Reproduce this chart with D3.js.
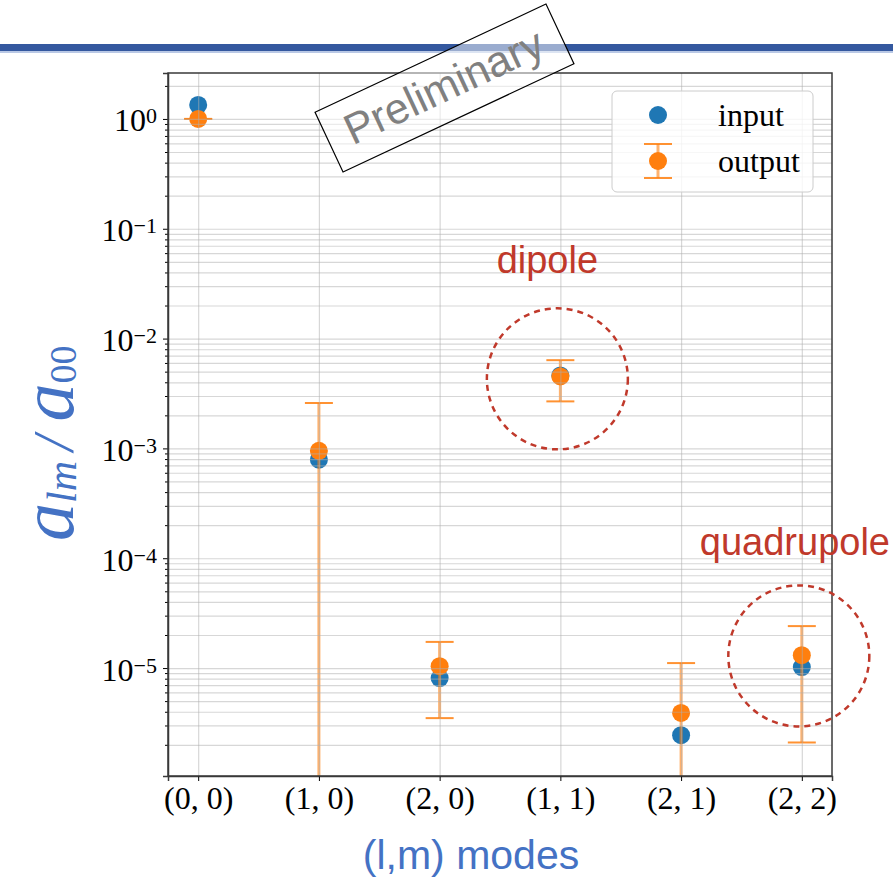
<!DOCTYPE html>
<html>
<head>
<meta charset="utf-8">
<script src="https://cdn.jsdelivr.net/npm/d3@7"></script>
<style>
body { margin: 0; background: #fff; }
svg { display: block; }
</style>
</head>
<body>
<svg id="chart" width="893" height="881"></svg>
<script>
'use strict';

// values
var modes = ['(0, 0)', '(1, 0)', '(2, 0)', '(1, 1)', '(2, 1)', '(2, 2)'];
var inputValues = [1.34, 7.9e-4, 8.1e-6, 4.62e-3, 2.45e-6, 1.02e-5];
var outputValues = [1.0, 9.5e-4, 1.04e-5, 4.52e-3, 3.9e-6, 1.31e-5];
var outputErrors = [0, 1.64e-3, 0.69e-5, 1.84e-3, 7.2e-6, 1.1e-5];
var decades = [-5, -4, -3, -2, -1, 0];
var seriesNames = ['input', 'output'];
var notes = [
	{text: 'dipole', mode: '(1, 1)', value: 4.3e-3},
	{text: 'quadrupole', mode: '(2, 2)', value: 1.29e-5}
];

var blue = '#1f77b4';
var orange = '#ff7f0e';
var labelBlue = '#4472c4';
var noteRed = '#c0392b';
var serif = '"Liberation Serif", "Times New Roman", serif';
var sans = '"Liberation Sans", Arial, Helvetica, sans-serif';

var svg = d3.select('#chart');
var margin = {top: 73, right: 61, bottom: 105, left: 168};
var width = 893 - margin.left - margin.right;
var height = 881 - margin.top - margin.bottom;

// slide header bar
svg.append('rect').attr('x', 0).attr('y', 44).attr('width', 893).attr('height', 7).attr('fill', '#34589f');
svg.append('rect').attr('x', 0).attr('y', 51).attr('width', 893).attr('height', 2).attr('fill', '#b9c8e5');

var x = d3.scalePoint()
	.domain(modes)
	.range([0, width])
	.padding(0.25);

var y = d3.scaleLog()
	.domain([1.04e-6, 2.62])
	.range([height, 0]);

var majorVals = decades.map(function(e) { return Math.pow(10, e); });
var minorVals = [];
for (var e = -6; e <= 0; e++) {
	for (var m = 2; m <= 9; m++) {
		var v = m * Math.pow(10, e);
		if (v > y.domain()[0] && v < y.domain()[1]) minorVals.push(v);
	}
}

var g = svg.append('g').attr('transform', 'translate(' + margin.left + ',' + margin.top + ')');

svg.append('defs').append('clipPath').attr('id', 'plotclip')
	.append('rect').attr('width', width).attr('height', height);

var marks = g.append('g').attr('clip-path', 'url(#plotclip)');

var rows = modes.map(function(d, i) {
	return {mode: d, input: inputValues[i], output: outputValues[i], err: outputErrors[i]};
});

// input points
marks.selectAll('.input')
	.data(rows)
.enter().append('circle')
	.attr('class', 'input')
	.attr('cx', function(d) { return x(d.mode); })
	.attr('cy', function(d) { return y(d.input); })
	.attr('r', 9)
	.attr('fill', blue);

// output error bars
var bars = marks.selectAll('.errbar')
	.data(rows)
.enter().append('g')
	.attr('class', 'errbar');

bars.append('line')
	.attr('x1', function(d) { return x(d.mode); })
	.attr('x2', function(d) { return x(d.mode); })
	.attr('y1', function(d) { return y(d.output + d.err); })
	.attr('y2', function(d) { return d.output - d.err > 0 ? y(d.output - d.err) : height + 5; })
	.attr('stroke', orange)
	.attr('stroke-opacity', 0.6)
	.attr('stroke-width', 3);

bars.append('line')
	.attr('x1', function(d) { return x(d.mode) - 14; })
	.attr('x2', function(d) { return x(d.mode) + 14; })
	.attr('y1', function(d) { return y(d.output + d.err); })
	.attr('y2', function(d) { return y(d.output + d.err); })
	.attr('stroke', orange)
	.attr('stroke-opacity', 0.85)
	.attr('stroke-width', 2);

bars.filter(function(d) { return d.output - d.err > 0; })
	.append('line')
	.attr('x1', function(d) { return x(d.mode) - 14; })
	.attr('x2', function(d) { return x(d.mode) + 14; })
	.attr('y1', function(d) { return y(d.output - d.err); })
	.attr('y2', function(d) { return y(d.output - d.err); })
	.attr('stroke', orange)
	.attr('stroke-opacity', 0.85)
	.attr('stroke-width', 2);

// output points
marks.selectAll('.output')
	.data(rows)
.enter().append('circle')
	.attr('class', 'output')
	.attr('cx', function(d) { return x(d.mode); })
	.attr('cy', function(d) { return y(d.output); })
	.attr('r', 9)
	.attr('fill', orange);

// grid on top of the points
var grid = g.append('g').attr('class', 'grid');
grid.append('g')
	.call(d3.axisLeft(y).tickValues(majorVals.concat(minorVals)).tickSize(-width).tickFormat(''))
	.call(function(s) { s.select('.domain').remove(); });
grid.append('g')
	.attr('transform', 'translate(0,' + height + ')')
	.call(d3.axisBottom(x).tickSize(-height).tickFormat(''))
	.call(function(s) { s.select('.domain').remove(); });
grid.selectAll('line')
	.attr('stroke', '#b0b0b0')
	.attr('stroke-opacity', 0.5)
	.attr('stroke-width', 1.2);

// axes
var xAxis = g.append('g')
	.attr('transform', 'translate(0,' + height + ')')
	.call(d3.axisBottom(x).tickSize(5));
xAxis.selectAll('text')
	.attr('y', 33)
	.attr('dy', 0)
	.attr('fill', '#000')
	.style('font-family', serif)
	.style('font-size', '32px');

var yAxis = g.append('g')
	.call(d3.axisLeft(y).tickValues(majorVals).tickSize(5).tickFormat(''));
yAxis.selectAll('.tick text').each(function(d) {
	var t = d3.select(this);
	var ex = Math.round(Math.log10(d));
	t.text(null)
		.attr('x', -11)
		.attr('y', 12)
		.attr('dy', 0)
		.attr('fill', '#000')
		.style('font-family', serif)
		.style('font-size', '32px');
	t.append('tspan').text('10');
	t.append('tspan')
		.attr('dy', -8)
		.style('font-size', '22px')
		.text(ex < 0 ? '\u2212' + (-ex) : String(ex));
});

g.append('g')
	.call(d3.axisLeft(y).tickValues(minorVals).tickSize(3).tickFormat(''))
	.call(function(s) { s.select('.domain').remove(); });

g.selectAll('.domain').attr('stroke', '#3a3a3a').attr('stroke-width', 1.5);

g.append('rect')
	.attr('width', width)
	.attr('height', height)
	.attr('fill', 'none')
	.attr('stroke', '#3a3a3a')
	.attr('stroke-width', 1.5);

// axis labels
svg.append('text')
	.attr('x', 471)
	.attr('y', 869)
	.attr('text-anchor', 'middle')
	.attr('fill', labelBlue)
	.style('font-family', sans)
	.style('font-size', '41px')
	.text('(l,m) modes');

var ylab = svg.append('text')
	.attr('transform', 'translate(73,541) rotate(-90)')
	.attr('fill', labelBlue)
	.style('font-family', serif);
ylab.append('tspan').style('font-style', 'italic').style('font-size', '76px').text('a');
ylab.append('tspan').attr('dy', 3).style('font-style', 'italic').style('font-size', '42px').text('lm');
ylab.append('tspan').attr('dx', 10).attr('dy', -3).style('font-style', 'italic').style('font-size', '56px').text('/');
ylab.append('tspan').attr('dx', 14).style('font-style', 'italic').style('font-size', '76px').text('a');
ylab.append('tspan').attr('dy', 3).style('font-size', '38px').text('00');

// annotations
notes.forEach(function(n) {
	var cx = margin.left + x(n.mode) - 3;
	var cy = margin.top + y(n.value);
	svg.append('circle')
		.attr('cx', cx)
		.attr('cy', cy)
		.attr('r', 70.5)
		.attr('fill', 'none')
		.attr('stroke', noteRed)
		.attr('stroke-width', 2.5)
		.attr('stroke-dasharray', '6,5');
	var isDipole = n.text === 'dipole';
	svg.append('text')
		.attr('x', isDipole ? cx - 10 : cx - 99)
		.attr('y', isDipole ? cy - 106 : cy - 101)
		.attr('text-anchor', isDipole ? 'middle' : 'start')
		.attr('fill', noteRed)
		.style('font-family', sans)
		.style('font-size', '38px')
		.text(n.text);
});

// legend
var legend = svg.append('g').attr('class', 'legend');
legend.append('rect')
	.attr('x', 612).attr('y', 91)
	.attr('width', 201).attr('height', 101)
	.attr('rx', 5)
	.attr('fill', '#fff').attr('fill-opacity', 0.8)
	.attr('stroke', '#cccccc').attr('stroke-width', 1);

legend.selectAll('.item')
	.data(seriesNames)
.enter().append('g')
	.attr('class', 'item')
	.each(function(name, i) {
		var item = d3.select(this);
		var ypos = 115 + i * 46;
		if (name === 'output') {
			item.append('line').attr('x1', 658).attr('x2', 658).attr('y1', ypos - 17).attr('y2', ypos + 17)
				.attr('stroke', orange).attr('stroke-opacity', 0.6).attr('stroke-width', 3);
			[ypos - 17, ypos + 17].forEach(function(cy) {
				item.append('line').attr('x1', 644).attr('x2', 672).attr('y1', cy).attr('y2', cy)
					.attr('stroke', orange).attr('stroke-opacity', 0.85).attr('stroke-width', 2);
			});
		}
		item.append('circle')
			.attr('cx', 658)
			.attr('cy', ypos)
			.attr('r', 9)
			.attr('fill', name === 'input' ? blue : orange);
		item.append('text')
			.attr('x', 718)
			.attr('y', ypos + 11)
			.attr('fill', '#000')
			.style('font-family', serif)
			.style('font-size', '32px')
			.text(name);
	});

// preliminary stamp
var stamp = svg.append('g').attr('transform', 'translate(444.5,88) rotate(-25.1)');
stamp.append('rect')
	.attr('x', -127.5).attr('y', -33)
	.attr('width', 255).attr('height', 66)
	.attr('fill', '#fff').attr('fill-opacity', 0.5)
	.attr('stroke', '#000').attr('stroke-width', 1.2);
stamp.append('text')
	.attr('x', 0)
	.attr('y', 13)
	.attr('text-anchor', 'middle')
	.attr('fill', '#808080')
	.style('font-family', sans)
	.style('font-size', '43px')
	.text('Preliminary');
</script>
</body>
</html>
